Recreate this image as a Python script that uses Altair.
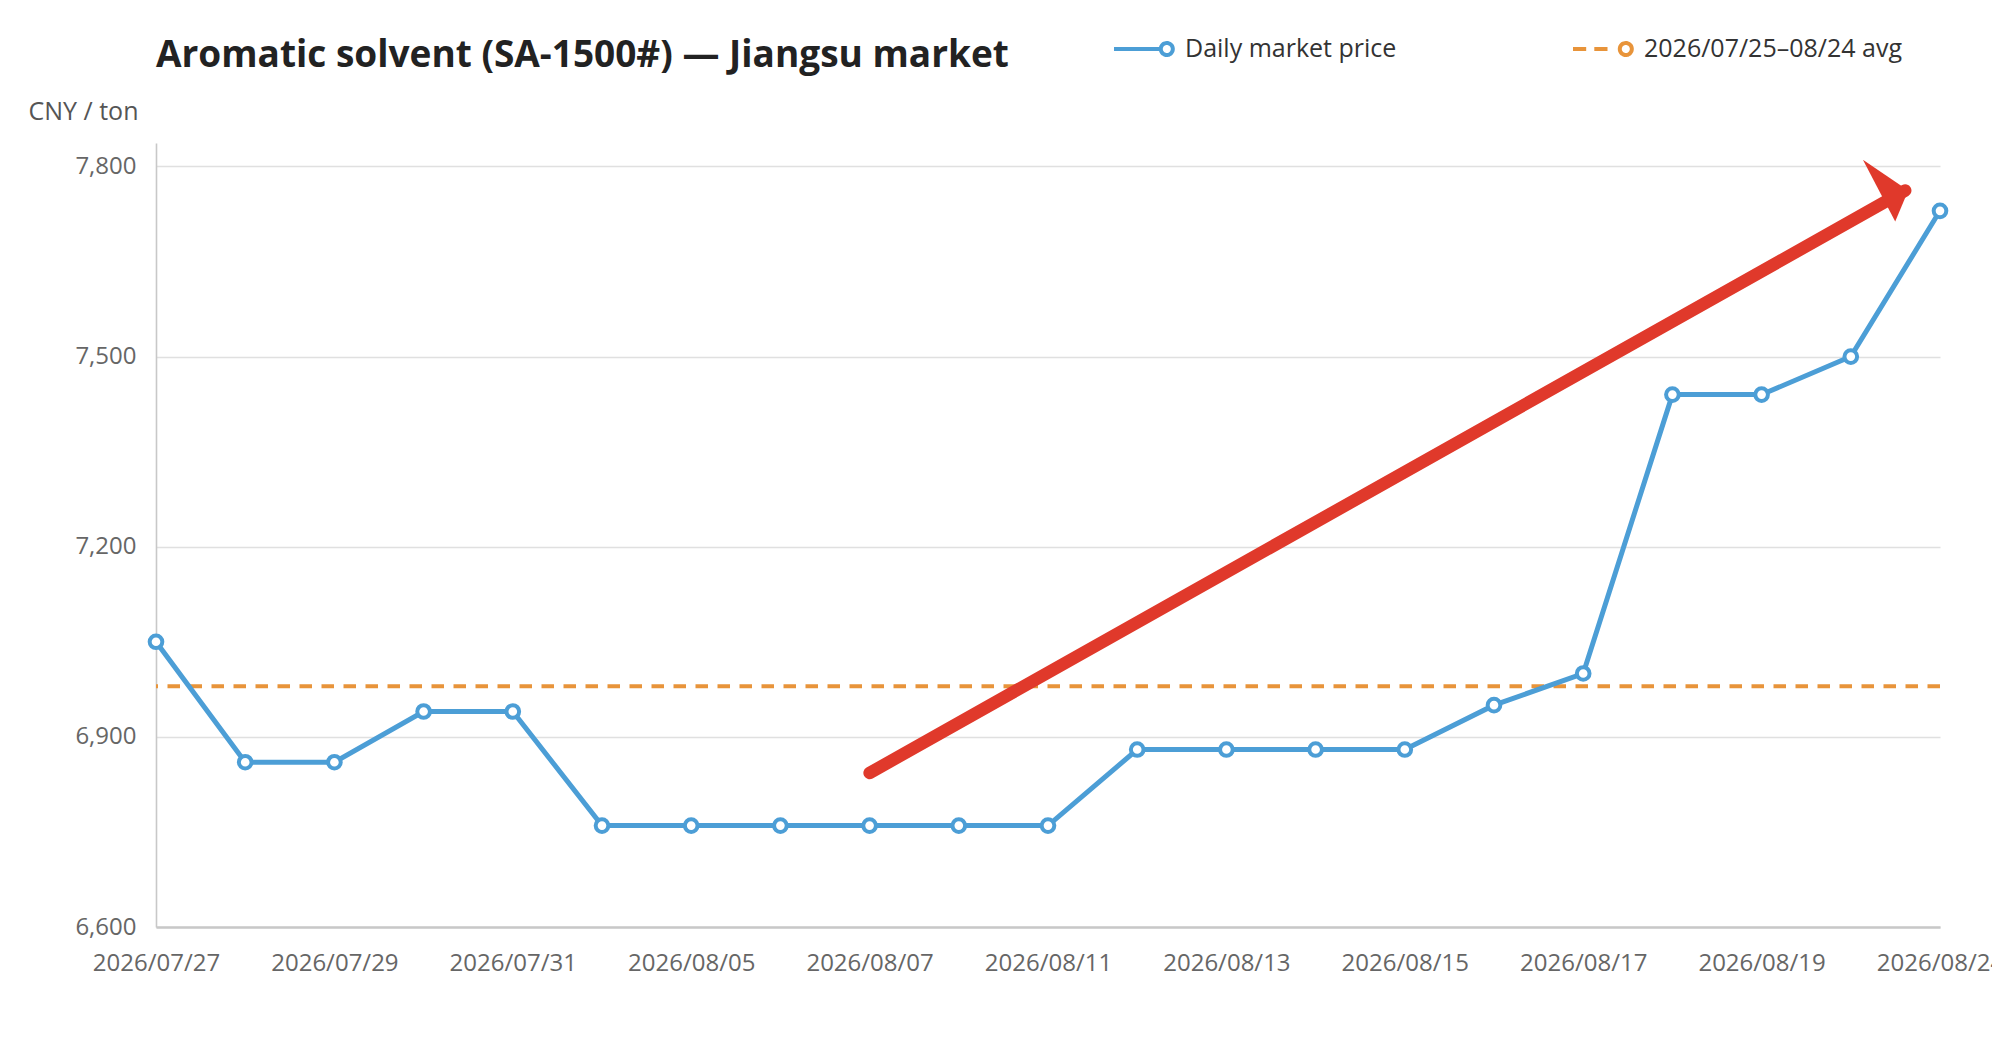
import altair as alt
import pandas as pd

# ---------------- data ----------------
dates = ["2026/07/27", "2026/07/28", "2026/07/29", "2026/07/30", "2026/07/31",
         "2026/08/04", "2026/08/05", "2026/08/06", "2026/08/07", "2026/08/10",
         "2026/08/11", "2026/08/12", "2026/08/13", "2026/08/14", "2026/08/15",
         "2026/08/16", "2026/08/17", "2026/08/18", "2026/08/19", "2026/08/20",
         "2026/08/24"]
prices = [7050, 6860, 6860, 6940, 6940, 6760, 6760, 6760, 6760, 6760, 6760,
          6880, 6880, 6880, 6880, 6950, 7000, 7440, 7440, 7500, 7730]
avg_price = 6980
y_ticks = [6600, 6900, 7200, 7500, 7800]
y_domain = [6600, 7837]
series_names = ["Daily market price", "2026/07/25\u201308/24 avg"]
# annotation arrow (x in day-index units, y in CNY/ton)
arrow_x = [8.0, 19.61]
arrow_y = [6843, 7762]

TITLE = "Aromatic solvent (SA-1500#) \u2014 Jiangsu market"
FONT = "Open Sans"
BLUE = "#4c9ed6"
ORANGE = "#e8943a"
RED = "#e0392b"

# ---------------- frames ----------------
df = pd.DataFrame({"idx": list(range(len(dates))), "date": dates,
                   "price": prices, "series": series_names[0]})
avg_df = pd.DataFrame({"price": [avg_price], "series": [series_names[1]]})
arrow_df = pd.DataFrame({"x": [arrow_x[0]], "y": [arrow_y[0]],
                         "x2": [arrow_x[1]], "y2": [arrow_y[1]]})
head_df = pd.DataFrame({"x": [arrow_x[1]], "y": [arrow_y[1]]})

label_expr = "[" + ",".join("'%s'" % d for d in dates) + "][datum.value]"

xscale = alt.Scale(domain=[0, len(dates) - 1], nice=False, zero=False)
yscale = alt.Scale(domain=y_domain, nice=False, zero=False)

xaxis = alt.Axis(values=list(range(0, len(dates), 2)), labelExpr=label_expr,
                 title=None, grid=False, ticks=False, tickSize=0,
                 labelPadding=24, domainColor="#c8c8c8", domainWidth=2.5,
                 labelFontSize=24, labelColor="#666666", labelFont=FONT,
                 labelFlush=False, labelOverlap=False)
yaxis = alt.Axis(values=y_ticks, format=",.0f", title="CNY / ton", titleAngle=0,
                 titleAlign="left", titleBaseline="middle", titleX=-128,
                 titleY=-32, titleFontWeight="normal", titleFontSize=25,
                 titleColor="#555555", titleFont=FONT, grid=True,
                 gridColor="#e0e0e0", gridWidth=1.6, ticks=False, tickSize=0,
                 labelPadding=20, domainColor="#c8c8c8", domainWidth=1.6,
                 labelFontSize=24, labelColor="#666666", labelFont=FONT)

LINE_SYM = ("M -1 0 L 0.56 0 M 0.96 0 A 0.2 0.2 0 1 1 0.56 0 "
            "A 0.2 0.2 0 1 1 0.96 0")
DASH_SYM = ("M -1 0 L -0.56 0 M -0.29 0 L 0.15 0 M 0.96 0 "
            "A 0.2 0.2 0 1 1 0.56 0 A 0.2 0.2 0 1 1 0.96 0")


def make_legend(sym, lx, ly):
    return alt.Legend(
        orient="none", legendX=lx, legendY=ly, direction="horizontal",
        title=None, symbolType=sym, symbolSize=3600, symbolStrokeWidth=4,
        symbolFillColor="white", symbolDash=[1, 0], symbolOpacity=1,
        labelFontSize=25, labelFont=FONT, labelColor="#333333",
        labelOffset=9, labelLimit=0, padding=0)


price_line = alt.Chart(df).mark_line(
    strokeWidth=5,
    point=alt.OverlayMarkDef(filled=False, fill="white", size=160,
                             strokeWidth=4, opacity=1)
).encode(
    x=alt.X("idx:Q", scale=xscale, axis=xaxis),
    y=alt.Y("price:Q", scale=yscale, axis=yaxis),
    color=alt.Color("series:N",
                    scale=alt.Scale(domain=[series_names[0]], range=[BLUE]),
                    legend=make_legend(LINE_SYM, 956, -126)),
)

avg_line = alt.Chart(avg_df).mark_rule(strokeWidth=4, strokeDash=[12.5, 9.5]).encode(
    y=alt.Y("price:Q", scale=yscale, axis=yaxis),
    color=alt.Color("series:N",
                    scale=alt.Scale(domain=[series_names[1]], range=[ORANGE]),
                    legend=make_legend(DASH_SYM, 1415, -126)),
)

arrow = alt.Chart(arrow_df).mark_rule(strokeWidth=12.5, strokeCap="round",
                                      color=RED).encode(
    x=alt.X("x:Q", scale=xscale, axis=xaxis),
    y=alt.Y("y:Q", scale=yscale, axis=yaxis),
    x2="x2:Q", y2="y2:Q")

HEAD = "M 0.3 0 L -4.23 -3.07 L -1.0 3.1 Z"
head = alt.Chart(head_df).mark_point(shape=HEAD, size=400, filled=True,
                                     color=RED, opacity=1, strokeWidth=0).encode(
    x=alt.X("x:Q", scale=xscale, axis=xaxis),
    y=alt.Y("y:Q", scale=yscale, axis=yaxis))

chart = alt.layer(avg_line, price_line, arrow, head).resolve_scale(
    color="independent"
).properties(
    width=1784, height=784,
    title=alt.TitleParams(TITLE, anchor="start", frame="group", fontSize=37,
                          font=FONT, fontWeight="bold", color="#222222",
                          offset=-87, baseline="alphabetic"),
    padding={"left": 148, "top": 135, "right": 52, "bottom": 100},
    autosize=alt.AutoSizeParams(type="none"),
).configure_view(stroke=None)

chart.save("out.html", embed_options={"renderer": "svg", "actions": False})
